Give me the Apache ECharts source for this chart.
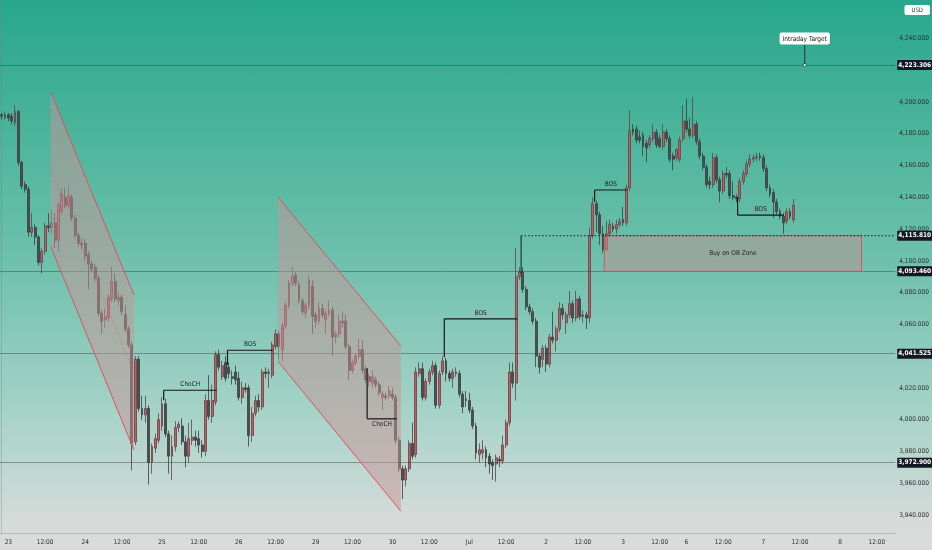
<!DOCTYPE html>
<html>
<head>
<meta charset="utf-8">
<script src="https://cdn.jsdelivr.net/npm/echarts@6/dist/echarts.min.js"></script>
<style>
  html, body { margin: 0; padding: 0; }
  #chart {
    width: 932px; height: 550px;
    background: linear-gradient(to bottom, #27a78c 0%, #4db59c 25%, #72c2ae 50%, #a6d3c8 75%, #d6dbd9 95%, #d9dcdb 100%);
  }
</style>
</head>
<body>
<div id="chart"></div>
<script>
const dayNames = ['22', '23', '24', '25', '26', '29', '30', 'Jul', '2', '3', '6', '7', '8'];
const dayBars = [2, 23, 23, 23, 23, 23, 23, 23, 23, 19, 23, 23, 17];

// hourly bars: [open, close, low, high]
const bars22 = [[4192,4191,4189,4193],[4190,4192,4189,4194]];
const bars23 = [
  [4192,4190,4188,4193],[4191,4188,4186,4193],[4187,4194,4185,4198],[4194,4162,4160,4195],
  [4162,4147,4145,4163],[4148,4145,4143,4150],[4145,4118,4115,4147],[4118,4121,4115,4130],
  [4121,4115,4110,4123],[4115,4099,4097,4116],[4099,4106,4092,4108],[4106,4122,4104,4124],
  [4122,4121,4118,4130],[4121,4124,4117,4132],[4124,4113,4108,4130],[4113,4135,4106,4137],
  [4131,4142,4129,4146],[4140,4135,4133,4146],[4135,4141,4133,4147],[4140,4127,4125,4142],
  [4127,4116,4114,4129],[4116,4111,4109,4118],[4111,4110,4107,4114]
];
const bars24 = [
  [4111,4103,4100,4114],[4104,4098,4082,4106],[4098,4095,4093,4100],[4096,4089,4087,4098],
  [4089,4067,4065,4091],[4067,4062,4054,4069],[4063,4065,4058,4070],[4064,4077,4062,4079],
  [4076,4087,4074,4096],[4087,4076,4074,4092],[4075,4077,4072,4080],[4077,4068,4066,4079],
  [4066,4057,4055,4072],[4057,4047,4045,4059],[4047,3985,3968,4049],[3986,4038,3984,4040],
  [4038,4007,4005,4040],[4007,4003,4000,4015],[4003,4007,3998,4015],[4007,3973,3959,4009],
  [3973,3983,3966,3985],[3982,3988,3979,3991],[3987,4000,3985,4004]
];
const bars25 = [
  [3996,4010,3993,4014],[4010,3991,3989,4013],[3991,3977,3966,3993],[3977,3983,3962,3990],
  [3983,3995,3980,3999],[3995,3997,3992,3999],[3996,3986,3984,4001],[3986,3977,3970,3990],
  [3977,3988,3973,3998],[3987,3989,3984,4000],[3989,3987,3983,3993],[3988,3984,3979,3993],
  [3984,3980,3976,3987],[3980,4012,3977,4016],[4012,4002,4000,4028],[4002,4012,3998,4022],
  [4011,4041,4009,4043],[4041,4033,4031,4044],[4027,4034,4025,4037],[4036,4026,4024,4040],
  [4033,4029,4026,4036],[4027,4026,4022,4031],[4030,4025,4022,4034]
];
const bars26 = [
  [4026,4014,4012,4030],[4014,4020,4010,4024],[4020,4019,4017,4023],[4020,3990,3983,4022],
  [3990,4004,3986,4008],[4004,4012,4002,4015],[4012,4008,4005,4016],[4008,4030,4006,4032],
  [4030,4029,4026,4033],[4029,4030,4020,4032],[4028,4047,4026,4049],[4046,4054,4044,4057],
  [4054,4046,4038,4056],[4044,4059,4037,4061],[4059,4072,4057,4074],[4072,4086,4070,4088],
  [4086,4090,4084,4096],[4091,4086,4084,4093],[4085,4075,4073,4087],[4075,4068,4066,4077],
  [4067,4072,4064,4074],[4072,4088,4070,4091],[4084,4065,4054,4088]
];
const bars29 = [
  [4066,4062,4058,4068],[4062,4070,4060,4074],[4070,4066,4064,4073],[4063,4067,4054,4069],
  [4067,4069,4065,4075],[4069,4052,4040,4071],[4052,4054,4048,4056],[4054,4062,4052,4066],
  [4062,4061,4058,4068],[4062,4046,4044,4066],[4046,4031,4025,4048],[4031,4036,4029,4038],
  [4036,4040,4034,4042],[4040,4044,4038,4051],[4044,4031,4029,4050],[4032,4025,4023,4034],
  [4027,4024,4021,4029],[4023,4027,4020,4031],[4025,4022,4020,4027],[4022,4017,4015,4024],
  [4014,4016,4006,4018],[4015,4014,4012,4017],[4015,4018,4013,4021]
];
const bars30 = [
  [4016,4014,4012,4020],[4014,3987,3985,4016],[3987,3969,3967,3989],[3969,3962,3950,3971],
  [3962,3969,3958,3971],[3969,3985,3967,3987],[3985,3977,3975,3998],[3978,4030,3976,4033],
  [4029,4032,4027,4036],[4032,4014,4012,4036],[4014,4024,4012,4026],[4024,4030,4022,4032],
  [4030,4034,4028,4037],[4034,4009,4007,4036],[4009,4029,4007,4031],[4030,4037,4028,4040],
  [4037,4029,4024,4039],[4029,4026,4024,4031],[4026,4030,4020,4032],[4029,4030,4027,4033],
  [4029,4016,4014,4031],[4016,4008,4004,4018],[4013,4012,4008,4018]
];
const barsJul1 = [
  [4012,4006,4004,4017],[4006,3996,3994,4008],[3996,3979,3975,3998],[3978,3981,3973,3985],
  [3979,3981,3975,3987],[3981,3976,3970,3983],[3977,3972,3966,3979],[3973,3971,3962,3975],
  [3972,3976,3961,3978],[3975,3974,3970,3977],[3974,3984,3972,3990],[3984,3998,3982,4000],
  [3998,4030,3996,4036],[4030,4023,4020,4036],[4023,4090,4012,4108],[4090,4093,4088,4096],
  [4093,4082,4080,4096],[4082,4071,4069,4084],[4071,4068,4066,4073],[4068,4062,4060,4070],
  [4062,4040,4033,4064],[4040,4033,4029,4042],[4038,4045,4033,4047]
];
const barsJul2 = [
  [4045,4035,4030,4047],[4035,4052,4033,4054],[4052,4050,4048,4068],[4050,4057,4043,4059],
  [4057,4070,4055,4074],[4070,4066,4063,4073],[4061,4066,4054,4068],[4066,4073,4064,4081],
  [4073,4064,4061,4075],[4064,4076,4062,4081],[4076,4065,4063,4078],[4065,4066,4061,4069],
  [4066,4064,4057,4068],[4064,4116,4061,4121],[4116,4136,4114,4140],[4136,4129,4118,4138],
  [4129,4117,4110,4131],[4117,4107,4105,4122],[4107,4117,4106,4125],[4117,4123,4115,4126],
  [4122,4120,4118,4124],[4120,4123,4117,4126],[4123,4125,4121,4127]
];
const barsJul3 = [
  [4126,4124,4122,4134],[4124,4146,4122,4148],[4146,4182,4144,4195],[4183,4181,4179,4186],
  [4183,4176,4174,4185],[4178,4176,4174,4182],[4179,4172,4166,4181],[4174,4171,4162,4176],
  [4173,4177,4171,4179],[4177,4181,4175,4186],[4181,4173,4171,4183],[4177,4172,4171,4179],
  [4172,4181,4170,4186],[4181,4177,4175,4183],[4177,4164,4162,4179],[4166,4164,4157,4168],
  [4165,4170,4163,4171],[4164,4176,4162,4178],[4177,4188,4175,4198]
];
const barsJul6 = [
  [4188,4183,4181,4202],[4183,4179,4177,4190],[4179,4186,4177,4203],[4186,4175,4173,4188],
  [4175,4166,4164,4177],[4166,4159,4157,4168],[4159,4148,4146,4161],[4150,4148,4145,4153],
  [4148,4165,4146,4168],[4165,4151,4149,4167],[4151,4144,4137,4153],[4144,4155,4142,4157],
  [4155,4154,4152,4159],[4155,4141,4139,4157],[4141,4140,4138,4150],[4140,4139,4137,4142],
  [4139,4150,4137,4152],[4150,4155,4148,4157],[4155,4161,4153,4163],[4161,4164,4159,4167],
  [4164,4165,4162,4167],[4165,4165.5,4163,4168],[4166,4165,4163,4168]
];
const barsJul7 = [
  [4165,4158,4156,4167],[4158,4146,4144,4160],[4146,4142,4140,4148],[4143,4137,4127,4145],
  [4137,4131,4129,4139],[4131,4128,4126,4133],[4128,4124,4117,4130],[4125,4131,4123,4133],
  [4131,4128,4126,4133],[4126,4135,4124,4139]
];

const priceTicks = [3940, 3960, 3980, 4000, 4020, 4060, 4080, 4100, 4120, 4140, 4160, 4180, 4200, 4240];
const levels = [4223.306, 4093.46, 4041.525, 3972.9];

// drawings, in [bar index, price]
const channel1 = [[14.65, 4206.3], [39.6, 4078.4], [39.6, 3980.8], [14.65, 4109.3]];
const channel2 = [[82.7, 4140.2], [119.5, 4046.3], [119.5, 3942.3], [82.7, 4036.8]];
const obZone = { x: [180.4, 257.4], y: [4093.46, 4115.81], text: 'Buy on OB Zone' };
const obLevel = { x: [155.5, 267.5], y: 4115.81, tick: 4092.3 };
const structure = [
  { text: 'ChoCH', x: [48.5, 64.4], y: 4018.5, tick: 4012.2, below: false },
  { text: 'BOS', x: [67.6, 81.2], y: 4043.7, tick: 4034.3, below: false },
  { text: 'ChoCH', x: [109.4, 118.3], y: 4000.5, tick: 4032.4, below: true },
  { text: 'BOS', x: [132.5, 154.3], y: 4063.5, tick: 4039.5, below: false },
  { text: 'BOS', x: [177.5, 187.3], y: 4144.6, tick: 4137.2, below: false },
  { text: 'BOS', x: [220.3, 234.2], y: 4128.8, tick: 4140.3, below: false }
];
const target = { x: 240.4, y: 4223.306, top: 4236.3, text: 'Intraday Target' };

const candles = [].concat(bars22, bars23, bars24, bars25, bars26, bars29, bars30,
  barsJul1, barsJul2, barsJul3, barsJul6, barsJul7);

const times = [];
dayNames.forEach((d, k) => {
  for (let h = 0; h < dayBars[k]; h++) times.push(d + '|' + h);
});

const font = "'Liberation Sans Narrow', 'DejaVu Sans Condensed', Roboto, sans-serif";
const fmt = v => Number(v).toLocaleString('en-US', { minimumFractionDigits: 3, maximumFractionDigits: 3 });
const red = '#e0505e';

function renderDrawings(params, api) {
  const c = p => api.coord(p);
  const kids = [];
  const seg = (a, b, style) => {
    const p = c(a), q = c(b);
    kids.push({ type: 'line', shape: { x1: p[0], y1: p[1], x2: q[0], y2: q[1] }, style });
  };
  const label = (text, p, vAlign) => kids.push({
    type: 'text',
    style: { text, x: p[0], y: p[1], align: 'center', verticalAlign: vAlign, fontSize: 6.5, fontFamily: font, fill: '#222' }
  });

  [channel1, channel2].forEach((ch, k) => {
    kids.push({ type: 'polygon', shape: { points: ch.map(c) }, style: { fill: 'rgba(200,148,152,0.5)' } });
    seg(ch[0], ch[1], { stroke: red, lineWidth: 1 });
    seg(ch[3], ch[2], { stroke: red, lineWidth: 1 });
    if (k === 0) {
      const m0 = [ch[0][0], (ch[0][1] + ch[3][1]) / 2];
      const m1 = [ch[1][0], (ch[1][1] + ch[2][1]) / 2];
      seg(m0, m1, { stroke: 'rgba(224,80,94,0.45)', lineWidth: 1, lineDash: [2, 2] });
    }
  });

  const z0 = c([obZone.x[0], obZone.y[1]]), z1 = c([obZone.x[1], obZone.y[0]]);
  kids.push({
    type: 'rect',
    shape: { x: z0[0], y: z0[1], width: z1[0] - z0[0], height: z1[1] - z0[1] },
    style: { fill: 'rgba(190,145,150,0.5)', stroke: red, lineWidth: 1 }
  });
  label(obZone.text, c([(obZone.x[0] + obZone.x[1]) / 2, (obZone.y[0] + obZone.y[1]) / 2]), 'middle');

  seg([obLevel.x[0], obLevel.y], [obLevel.x[1], obLevel.y], { stroke: '#1c1c1c', lineWidth: 1, lineDash: [1.5, 2] });
  seg([obLevel.x[0], obLevel.y], [obLevel.x[0], obLevel.tick], { stroke: '#1c1c1c', lineWidth: 1 });

  structure.forEach(s => {
    const ink = { stroke: '#161616', lineWidth: 1.2 };
    seg([s.x[0], s.y], [s.x[1], s.y], ink);
    seg([s.x[0], s.y], [s.x[0], s.tick], ink);
    const mid = c([(s.x[0] + s.x[1]) / 2, s.y]);
    label(s.text, [mid[0], mid[1] + (s.below ? 2 : -2)], s.below ? 'top' : 'bottom');
  });

  const tp = c([target.x, target.y]), tt = c([target.x, target.top]);
  kids.push({ type: 'line', shape: { x1: tp[0], y1: tp[1], x2: tt[0], y2: tt[1] }, style: { stroke: '#333', lineWidth: 1 } });
  kids.push({ type: 'circle', shape: { cx: tp[0], cy: tp[1], r: 1.6 }, style: { fill: '#fff', stroke: '#333', lineWidth: 0.8 } });
  kids.push({
    type: 'text',
    style: {
      text: target.text, x: tt[0], y: tt[1], align: 'center', verticalAlign: 'bottom',
      fontSize: 6.5, fontFamily: font, fill: '#111',
      backgroundColor: '#ffffff', padding: [3, 3, 2, 3], borderRadius: 2
    }
  });
  return { type: 'group', children: kids };
}

const chart = echarts.init(document.getElementById('chart'));
chart.setOption({
  backgroundColor: 'transparent',
  animation: false,
  grid: { left: 0, right: 30, top: 0, bottom: 17 },
  xAxis: [
    {
      type: 'category',
      data: times,
      boundaryGap: true,
      axisLine: { lineStyle: { color: 'rgba(110,125,120,0.35)' } },
      axisTick: { show: false },
      splitLine: { show: false },
      axisLabel: {
        interval: (i, v) => {
          const [d, h] = v.split('|');
          return (h === '0' && d !== '22') || h === '11';
        },
        formatter: v => {
          const [d, h] = v.split('|');
          return h === '0' ? d : '12:00';
        },
        fontSize: 6.5, fontFamily: font, color: '#2e2e2e', margin: 6
      }
    },
    { type: 'value', min: -0.5, max: times.length - 0.5, show: false }
  ],
  yAxis: {
    type: 'value',
    position: 'right',
    min: 3928.6,
    max: 4264.25,
    splitLine: { show: false },
    axisTick: { show: false },
    axisLine: { show: true, lineStyle: { color: 'rgba(110,125,120,0.35)' } },
    axisLabel: {
      customValues: priceTicks,
      formatter: fmt,
      fontSize: 6.5, fontFamily: font, color: '#2e2e2e', margin: 4
    }
  },
  graphic: [{
    type: 'text', right: 2, top: 5,
    style: {
      text: 'USD', fontSize: 6, fontFamily: font, fill: '#333',
      backgroundColor: '#ffffff', padding: [2, 7, 2, 7], borderRadius: 2
    }
  }],
  series: [
    {
      type: 'candlestick',
      data: candles,
      barWidth: 2.4,
      itemStyle: {
        color: '#d8525e', color0: '#4a4f4e',
        borderColor: '#5c4649', borderColor0: '#3a3f3e', borderWidth: 0.8
      },
      markLine: {
        symbol: 'none', silent: true, animation: false, precision: 3,
        label: {
          show: true, position: 'end', distance: 2, formatter: p => fmt(p.value),
          backgroundColor: '#131722', color: '#ffffff', fontSize: 6.5, fontWeight: 'bold',
          fontFamily: font, padding: [2, 1, 1, 1]
        },
        data: levels.map(v => ({ yAxis: v, lineStyle: { color: 'rgba(50,65,62,0.45)', width: 1, type: 'solid' } }))
          .concat([{ yAxis: obLevel.y, lineStyle: { color: 'rgba(0,0,0,0)', width: 1 } }])
      }
    },
    {
      type: 'custom',
      xAxisIndex: 1,
      yAxisIndex: 0,
      data: [[0, obLevel.y]],
      silent: true,
      z: 5,
      renderItem: renderDrawings
    }
  ]
});
</script>
</body>
</html>
